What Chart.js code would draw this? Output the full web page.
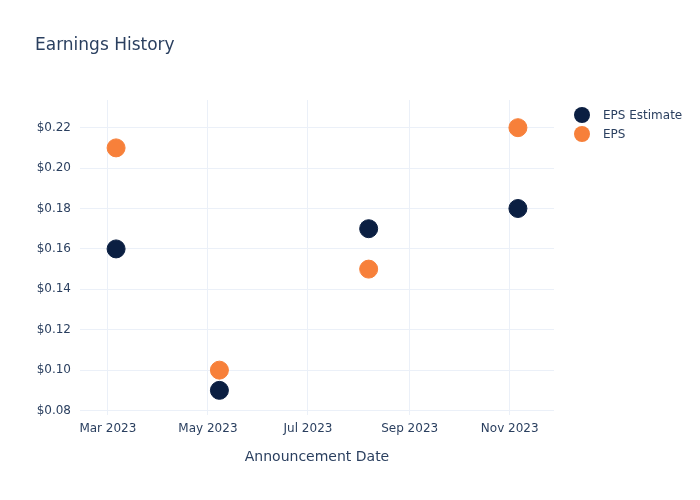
<!DOCTYPE html>
<html>
<head>
<meta charset="utf-8">
<script src="https://cdn.jsdelivr.net/npm/chart.js@4/dist/chart.umd.min.js"></script>
<style>
  body { margin: 0; background: #fff; font-family: "DejaVu Sans", sans-serif; }
  #wrap { position: relative; width: 700px; height: 500px; }
  #title { position: absolute; left: 35px; top: 34px; font-size: 17px; color: #2a3f5f; }
  #legend { position: absolute; left: 574px; top: 105px; font-size: 12px; color: #2a3f5f; }
  #legend div { height: 19px; display: flex; align-items: center; }
  #legend span.dot { display: inline-block; width: 16px; height: 16px; border-radius: 50%; margin-right: 13px; }
</style>
</head>
<body>
<div id="wrap">
  <canvas id="chart" width="700" height="500"></canvas>
  <div id="title">Earnings History</div>
  <div id="legend"></div>
</div>
<script>
const dates = ['2023-03-06', '2023-05-08', '2023-08-07', '2023-11-06'];
const epsEstimate = [0.16, 0.09, 0.17, 0.18];
const eps = [0.21, 0.10, 0.15, 0.22];
const xTickDates = ['2023-03-01', '2023-05-01', '2023-07-01', '2023-09-01', '2023-11-01'];
const yTicks = [0.08, 0.10, 0.12, 0.14, 0.16, 0.18, 0.20, 0.22];
const monthNames = ['Jan', 'Feb', 'Mar', 'Apr', 'May', 'Jun', 'Jul', 'Aug', 'Sep', 'Oct', 'Nov', 'Dec'];

const toTime = (s) => Date.parse(s + 'T00:00:00Z');
const navy = '#0b1f42';
const orange = '#f7803a';
const labelColor = '#2a3f5f';
const gridColor = '#ebf0f8';

Chart.defaults.font.family = '"DejaVu Sans", sans-serif';

const series = [
  { label: 'EPS Estimate', values: epsEstimate, color: navy },
  { label: 'EPS', values: eps, color: orange },
];

const chartData = {
  datasets: series.map(s => ({
    label: s.label,
    data: s.values.map((v, i) => ({ x: toTime(dates[i]), y: v })),
    backgroundColor: s.color,
    borderColor: s.color,
    pointRadius: 9,
    pointHoverRadius: 9,
    showLine: false,
  })),
};

const chartOptions = {
  responsive: false,
  animation: false,
  layout: { padding: { top: 100, right: 146, left: 0, bottom: 0 } },
  scales: {
    x: {
      type: 'linear',
      min: toTime('2023-02-12'),
      max: toTime('2023-11-28'),
      afterBuildTicks: (axis) => { axis.ticks = xTickDates.map(d => ({ value: toTime(d) })); },
      afterFit: (axis) => { axis.height = 85; },
      ticks: {
        color: labelColor,
        font: { size: 12 },
        padding: 7,
        maxRotation: 0,
        callback: (v) => {
          const d = new Date(v);
          return monthNames[d.getUTCMonth()] + ' ' + d.getUTCFullYear();
        },
      },
      grid: { color: gridColor, drawTicks: false },
      border: { display: false },
      title: {
        display: true,
        text: 'Announcement Date',
        color: labelColor,
        font: { size: 14 },
        padding: { top: 12, bottom: 34 },
      },
    },
    y: {
      min: 0.0778,
      max: 0.2337,
      afterBuildTicks: (axis) => { axis.ticks = yTicks.map(v => ({ value: v })); },
      afterFit: (axis) => { axis.width = 80; },
      ticks: {
        color: labelColor,
        font: { size: 12 },
        padding: 9,
        callback: (v) => '$' + v.toFixed(2),
      },
      grid: { color: gridColor, drawTicks: false },
      border: { display: false },
    },
  },
  plugins: {
    legend: { display: false },
    tooltip: { enabled: false },
  },
};

new Chart(document.getElementById('chart'), {
  type: 'scatter',
  data: chartData,
  options: chartOptions,
});

// legend
const legendEl = document.getElementById('legend');
series.forEach(s => {
  const row = document.createElement('div');
  row.innerHTML = '<span class="dot" style="background:' + s.color + '"></span>' + s.label;
  legendEl.appendChild(row);
});
</script>
</body>
</html>
